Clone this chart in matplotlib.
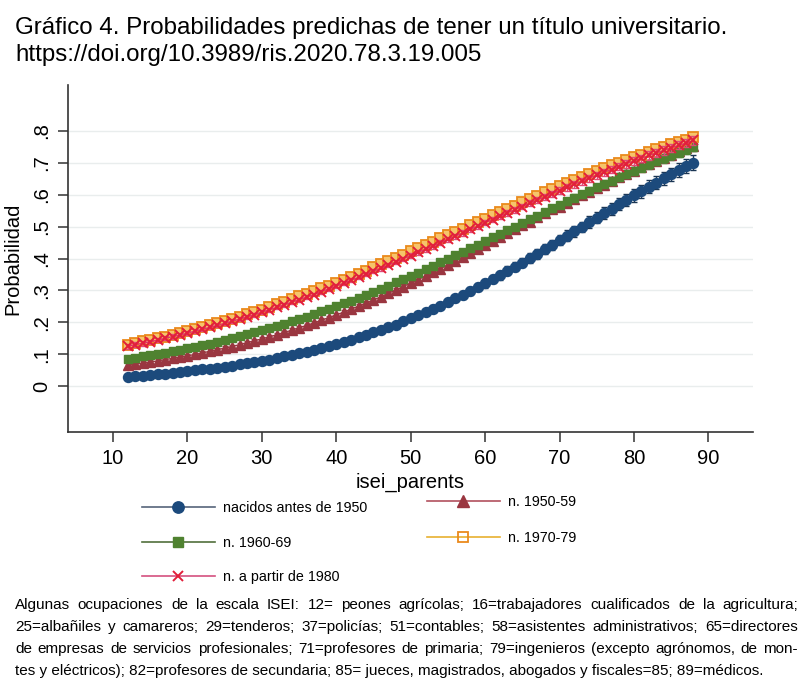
"""
Gráfico 4: probabilidades predichas de tener un título universitario
"""
import matplotlib
matplotlib.use('Agg')
import matplotlib.pyplot as plt
from matplotlib.lines import Line2D

plt.rcParams['font.family'] = ['Liberation Sans', 'DejaVu Sans']

# ---- datos ----
isei = list(range(12, 89))

p_antes1950 = [0.030, 0.032, 0.033, 0.035, 0.037, 0.039, 0.042, 0.044, 0.046, 0.049,
               0.052, 0.055, 0.058, 0.061, 0.064, 0.068, 0.071, 0.075, 0.079, 0.083,
               0.088, 0.093, 0.097, 0.103, 0.108, 0.114, 0.119, 0.126, 0.132, 0.139,
               0.146, 0.153, 0.160, 0.168, 0.176, 0.185, 0.193, 0.203, 0.212, 0.222,
               0.232, 0.242, 0.252, 0.263, 0.275, 0.286, 0.298, 0.310, 0.322, 0.335,
               0.348, 0.361, 0.374, 0.387, 0.401, 0.415, 0.429, 0.443, 0.457, 0.471,
               0.485, 0.499, 0.514, 0.528, 0.542, 0.556, 0.570, 0.584, 0.598, 0.611,
               0.625, 0.638, 0.651, 0.664, 0.677, 0.689, 0.701]

p_1950_59 = [0.065, 0.069, 0.072, 0.075, 0.079, 0.083, 0.087, 0.091, 0.095, 0.099,
             0.104, 0.109, 0.114, 0.119, 0.124, 0.130, 0.136, 0.142, 0.148, 0.154,
             0.161, 0.168, 0.175, 0.183, 0.190, 0.198, 0.206, 0.215, 0.223, 0.232,
             0.241, 0.251, 0.260, 0.270, 0.280, 0.291, 0.301, 0.312, 0.323, 0.334,
             0.345, 0.357, 0.368, 0.380, 0.392, 0.404, 0.416, 0.429, 0.441, 0.454,
             0.466, 0.479, 0.491, 0.504, 0.516, 0.529, 0.542, 0.554, 0.562, 0.574,
             0.586, 0.598, 0.609, 0.621, 0.632, 0.643, 0.654, 0.665, 0.675, 0.686,
             0.696, 0.706, 0.716, 0.726, 0.736, 0.745, 0.754]

p_1960_69 = [0.085, 0.089, 0.093, 0.096, 0.101, 0.105, 0.109, 0.114, 0.118, 0.123,
             0.128, 0.133, 0.139, 0.144, 0.150, 0.156, 0.162, 0.168, 0.175, 0.181,
             0.188, 0.195, 0.203, 0.210, 0.218, 0.226, 0.234, 0.242, 0.251, 0.259,
             0.268, 0.277, 0.286, 0.296, 0.305, 0.315, 0.325, 0.335, 0.346, 0.356,
             0.367, 0.377, 0.388, 0.399, 0.410, 0.421, 0.432, 0.443, 0.455, 0.466,
             0.477, 0.489, 0.500, 0.512, 0.523, 0.534, 0.546, 0.557, 0.568, 0.579,
             0.591, 0.602, 0.612, 0.623, 0.634, 0.644, 0.655, 0.665, 0.675, 0.685,
             0.695, 0.705, 0.714, 0.723, 0.732, 0.741, 0.750]

p_1970_79 = [0.130, 0.135, 0.140, 0.145, 0.150, 0.155, 0.161, 0.167, 0.173, 0.179,
             0.185, 0.191, 0.198, 0.204, 0.211, 0.218, 0.226, 0.233, 0.240, 0.248,
             0.256, 0.264, 0.272, 0.281, 0.289, 0.298, 0.306, 0.315, 0.324, 0.334,
             0.343, 0.352, 0.362, 0.372, 0.382, 0.391, 0.401, 0.411, 0.422, 0.432,
             0.442, 0.452, 0.463, 0.473, 0.483, 0.494, 0.504, 0.515, 0.525, 0.536,
             0.546, 0.556, 0.566, 0.577, 0.587, 0.597, 0.607, 0.617, 0.627, 0.636,
             0.646, 0.655, 0.665, 0.674, 0.683, 0.692, 0.701, 0.710, 0.718, 0.726,
             0.735, 0.743, 0.751, 0.758, 0.766, 0.773, 0.781]

p_desde1980 = [0.125, 0.130, 0.134, 0.139, 0.144, 0.150, 0.155, 0.160, 0.166, 0.172,
               0.178, 0.184, 0.190, 0.197, 0.203, 0.210, 0.217, 0.224, 0.232, 0.239,
               0.247, 0.255, 0.263, 0.271, 0.279, 0.287, 0.296, 0.305, 0.314, 0.323,
               0.332, 0.341, 0.350, 0.360, 0.369, 0.379, 0.389, 0.399, 0.409, 0.419,
               0.429, 0.439, 0.449, 0.460, 0.470, 0.480, 0.491, 0.501, 0.512, 0.522,
               0.532, 0.543, 0.553, 0.563, 0.573, 0.583, 0.593, 0.603, 0.613, 0.623,
               0.633, 0.642, 0.652, 0.661, 0.670, 0.679, 0.688, 0.697, 0.706, 0.714,
               0.723, 0.731, 0.739, 0.747, 0.755, 0.762, 0.770]

# semiamplitud de los intervalos de confianza
ci_antes1950 = [0.006] * 25 + [0.007, 0.007, 0.007, 0.007, 0.007,
                0.007, 0.008, 0.008, 0.008, 0.008, 0.009, 0.009, 0.009, 0.010, 0.010,
                0.010, 0.011, 0.011, 0.011, 0.012, 0.012, 0.012, 0.013, 0.013, 0.013,
                0.014, 0.014, 0.014, 0.015, 0.015, 0.015, 0.016, 0.016, 0.016, 0.017,
                0.017, 0.017, 0.018, 0.018, 0.018, 0.019, 0.019, 0.019, 0.020, 0.020,
                0.020, 0.021, 0.021, 0.021, 0.022, 0.022, 0.022]
ci_otros = [0.008, 0.008, 0.008, 0.007, 0.007, 0.007, 0.007, 0.007, 0.006, 0.006] \
    + [0.006] * 24 + [0.007] * 6 + [0.008] * 10 + [0.009] * 5 + [0.010] * 5 \
    + [0.011] * 5 + [0.012] * 5 + [0.013] * 7

etiquetas = ['nacidos antes de 1950', 'n. 1950-59', 'n. 1960-69',
             'n. 1970-79', 'n. a partir de 1980']

yticks = [0, 0.1, 0.2, 0.3, 0.4, 0.5, 0.6, 0.7, 0.8]
ytick_labels = ['0', '.1', '.2', '.3', '.4', '.5', '.6', '.7', '.8']
xticks = [10, 20, 30, 40, 50, 60, 70, 80, 90]

titulo1 = 'Gráfico 4. Probabilidades predichas de tener un título universitario.'
titulo2 = 'https://doi.org/10.3989/ris.2020.78.3.19.005'
nota = [
    'Algunas ocupaciones de la escala ISEI: 12= peones agrícolas; 16=trabajadores cualificados de la agricultura;',
    '25=albañiles y camareros; 29=tenderos; 37=policías; 51=contables; 58=asistentes administrativos; 65=directores',
    'de empresas de servicios profesionales; 71=profesores de primaria; 79=ingenieros (excepto agrónomos, de mon-',
    'tes y eléctricos); 82=profesores de secundaria; 85= jueces, magistrados, abogados y fiscales=85; 89=médicos.',
]

# estilos por serie
estilos = [
    dict(marker='o', ms=7.2, mfc='#1c4a7c', mec='#1c4a7c', mew=1, color='#1c4a7c',
         ecol='#1b3654', lcol='#56657a'),
    dict(marker='^', ms=7.2, mfc='#9a3640', mec='#9a3640', mew=1, color='#9a3640',
         ecol='#9a4048', lcol='#b2505e'),
    dict(marker='s', ms=5.8, mfc='#4f8230', mec='#4f8230', mew=1, color='#4f8230',
         ecol='#55803a', lcol='#51703c'),
    dict(marker='s', ms=6.5, mfc='#f6c46a', mec='#ea8a1c', mew=1.3, color='#ea8a1c',
         ecol='#f0b040', lcol='#e8b030'),
    dict(marker='x', ms=6.5, mfc='#e21f3a', mec='#e21f3a', mew=1.4, color='#e0306a',
         ecol='#e04a78', lcol='#d4507f'),
]
series = [p_antes1950, p_1950_59, p_1960_69, p_1970_79, p_desde1980]
cis = [ci_antes1950, ci_otros, ci_otros, ci_otros, ci_otros]

W, H = 804, 681
fig = plt.figure(figsize=(W / 100, H / 100), dpi=100)
ax = fig.add_axes([68 / W, 1 - 432 / H, (753 - 68) / W, (432 - 85) / H])

for i, (ys, ci, st) in enumerate(zip(series, cis, estilos)):
    ax.errorbar(isei, ys, yerr=ci, fmt='none', ecolor=st['ecol'], elinewidth=1,
                capsize=2.5, capthick=1, zorder=2 + i)
    ax.plot(isei, ys, color=st['color'], lw=1, marker=st['marker'], ms=st['ms'],
            mfc=st['mfc'], mec=st['mec'], mew=st['mew'], zorder=2.5 + i)

ax.set_xlim(3.95, 96)
ax.set_ylim(-0.144, 0.944)
ax.set_xticks(xticks)
ax.set_yticks(yticks)
ax.set_yticklabels(ytick_labels, rotation=90, va='center')
ax.tick_params(axis='both', labelsize=14.5, length=7, width=1.1, color='#333333',
               direction='out')
ax.tick_params(axis='x', pad=5)
ax.tick_params(axis='y', pad=5)
ax.grid(axis='y', color='#e9eded', lw=1)
ax.set_axisbelow(True)
for s in ['top', 'right']:
    ax.spines[s].set_visible(False)
for s in ['left', 'bottom']:
    ax.spines[s].set_color('#333333')
    ax.spines[s].set_linewidth(1.2)
ax.set_xlabel('isei_parents', fontsize=14.5, labelpad=4)
ax.set_ylabel('Probabilidad', fontsize=14.5, labelpad=7)

# leyenda: una entrada por caja para fijar su posición
pos_leyenda = [(142, 508), (427, 502), (142, 543), (427, 538), (142, 577)]
for lab, st, (px, py) in zip(etiquetas, estilos, pos_leyenda):
    mfc = 'none' if st['marker'] == 's' and st['mfc'] != st['mec'] else st['mfc']
    h = Line2D([], [], color=st['lcol'], lw=1.2, marker=st['marker'],
               ms=st['ms'] + 1, mfc=mfc, mec=st['mec'], mew=st['mew'])
    fig.legend([h], [lab], loc='center left', bbox_to_anchor=(px / W, 1 - py / H),
               frameon=False, fontsize=10.3, handlelength=5.1, handletextpad=0.55,
               borderpad=0, borderaxespad=0)

# título
fig.text(15 / W, 1 - 34 / H, titulo1, fontsize=17.4, va='baseline', ha='left')
fig.text(15 / W, 1 - 61 / H, titulo2, fontsize=17.4, va='baseline', ha='left')

# nota al pie, justificada
x0, x1 = 15, 798
base = [609, 631, 653, 675]
tam_nota = 11
renderer = fig.canvas.get_renderer()
for k, (linea, yb) in enumerate(zip(nota, base)):
    if k == len(nota) - 1:
        fig.text(x0 / W, 1 - yb / H, linea, fontsize=tam_nota,
                 va='baseline', ha='left')
        continue
    palabras = linea.split(' ')
    textos = [fig.text(0, 1 - yb / H, p, fontsize=tam_nota,
                       va='baseline', ha='left') for p in palabras]
    anchos = [t.get_window_extent(renderer).width for t in textos]
    hueco = (x1 - x0 - sum(anchos)) / (len(palabras) - 1)
    xc = x0
    for t, a in zip(textos, anchos):
        t.set_x(xc / W)
        xc += a + hueco

fig.savefig('out.png', dpi=100)
